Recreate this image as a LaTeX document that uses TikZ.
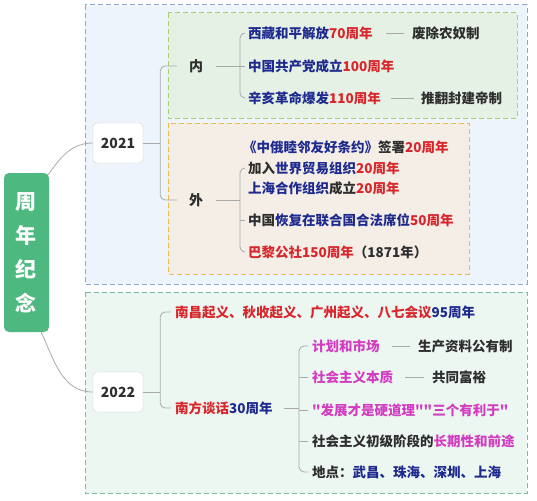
\documentclass[tikz,border=0pt]{standalone}
\usepackage{fontspec}
\setmainfont{Noto Sans CJK SC}
\newfontfamily\plainquote{Noto Sans CJK SC}[Ligatures=TeXOff]
\usetikzlibrary{calc}
\definecolor{navy}{HTML}{1E2A8E}
\definecolor{hred}{HTML}{D8262C}
\definecolor{mag}{HTML}{D23CC0}
\definecolor{dgray}{HTML}{2E2E2E}
\definecolor{connc}{HTML}{A9A9A9}
\definecolor{bluebd}{HTML}{8DA8C8}
\definecolor{bluebg}{HTML}{EDF4FC}
\definecolor{greenbd}{HTML}{A8CF72}
\definecolor{greenbg}{HTML}{E5F1E4}
\definecolor{orangebd}{HTML}{F0B84E}
\definecolor{orangebg}{HTML}{F4EEE7}
\definecolor{tealbd}{HTML}{80B8A6}
\definecolor{tealbg}{HTML}{EDF7F2}
\definecolor{rootc}{HTML}{4DB880}
\definecolor{yearbd}{HTML}{D0D0D0}
\begin{document}
\begin{tikzpicture}[x=1pt,y=-1pt,
  grp/.style={line width=1pt, dash pattern=on 5pt off 3pt},
  conn/.style={draw=connc, line width=0.8pt},
  brk/.style={conn, rounded corners=5pt},
  item/.style={anchor=west, inner sep=0pt, font=\fontsize{13.5}{16}\selectfont\bfseries, text=dgray},
  yearbox/.style={draw=yearbd, fill=white, rounded corners=4pt, minimum width=50pt, minimum height=40pt, inner sep=0pt, font=\fontsize{14}{16}\selectfont\bfseries, text=dgray},
  sidebox/.style={inner sep=0pt, font=\fontsize{14}{16}\selectfont\bfseries, text=dgray}
]
\useasboundingbox (0,0) rectangle (537,500);
% group boxes
\draw[grp, draw=bluebd, fill=bluebg] (85,5) rectangle (527,284);
\draw[grp, draw=greenbd, fill=greenbg] (168,13) rectangle (517,118);
\draw[grp, draw=orangebd, fill=orangebg] (168,123) rectangle (469,274);
\draw[grp, draw=tealbd, fill=tealbg] (85,292) rectangle (527,493);

% root
\node[fill=rootc, rounded corners=5pt, minimum width=45pt, minimum height=159pt, inner sep=0pt,
  text=white, font=\fontsize{21}{34}\selectfont\bfseries, align=center] (root) at (26.5,252.5) {周\\年\\纪\\念};

% years
\node[yearbox] (y2021) at (118,143) {2021};
\node[yearbox] (y2022) at (118,392) {2022};

% 2021 branches
\node[sidebox] (nei) at (196,66) {内};
\node[sidebox] (wai) at (196,200) {外};

\node[item] (a1) at (248,33) {\textcolor{navy}{西藏和平解放}\textcolor{hred}{70周年}};
\node[item] (a2) at (248,66) {\textcolor{navy}{中国共产党成立}\textcolor{hred}{100周年}};
\node[item] (a3) at (248,98) {\textcolor{navy}{辛亥革命爆发}\textcolor{hred}{110周年}};
\node[item] (a1n) at (412,33) {废除农奴制};
\node[item] (a3n) at (421,98) {推翻封建帝制};

\node[item] (b0) at (243,147) {\textcolor{navy}{《中俄睦邻友好条约》}签署\textcolor{hred}{20周年}};
\node[item] (b1) at (248,168) {加入\textcolor{navy}{世界贸易组织}\textcolor{hred}{20周年}};
\node[item] (b2) at (248,188) {\textcolor{navy}{上海合作组织}成立\textcolor{hred}{20周年}};
\node[item] (b3) at (248,220) {中国\textcolor{navy}{恢复在联合国合法席位}\textcolor{hred}{50周年}};
\node[item] (b4) at (248,252) {\textcolor{hred}{巴黎公社150周年}（1871年）};

% 2022 branches
\node[item] (c1) at (175,312) {\textcolor{hred}{南昌起义、秋收起义、广州起义、八七会议}\textcolor{navy}{95周年}};
\node[item] (c2) at (175,408) {\textcolor{hred}{南方谈话}\textcolor{navy}{30周年}};

\node[item] (d1) at (312,346) {\textcolor{mag}{计划和市场}};
\node[item] (d1n) at (418,346) {生产资料公有制};
\node[item] (d2) at (312,377) {\textcolor{mag}{社会主义本质}};
\node[item] (d2n) at (432,377) {共同富裕};
\node[item] (d3) at (312,410) {\plainquote\bfseries\textcolor{mag}{"发展才是硬道理""三个有利于"}};
\node[item] (d4) at (312,441) {社会主义初级阶段的\textcolor{mag}{长期性和前途}};
\node[item] (d5) at (312,472) {地点：\textcolor{navy}{武昌、珠海、深圳、上海}};

% root curves
\draw[conn] ([shift={(-1,2)}]root.north east) to[out=55,in=180] (y2021.west);
\draw[conn] ([shift={(-8,0)}]root.south east) to[out=-65,in=180] (y2022.west);

% 2021 -> 内/外
\coordinate (k1) at ([xshift=17pt]y2021.east);
\draw[conn] (y2021.east) -- (k1);
\draw[brk] ([xshift=-12pt]nei.west) -- (k1 |- nei.west) -- (k1 |- wai.west) -- ([xshift=-12pt]wai.west);

% 内 bracket
\coordinate (kn) at ([xshift=-8pt]a1.west);
\draw[conn] ([xshift=13pt]nei.east) -- ([xshift=-3pt]a2.west);
\draw[brk] ([xshift=-3pt]a1.west) -- (kn) -- (kn |- a3.west) -- ([xshift=-3pt]a3.west);
\draw[conn] ([xshift=13pt]a1.east) -- ([xshift=-8pt]a1n.west);
\draw[conn] ([xshift=10pt]a3.east) -- ([xshift=-7pt]a3n.west);

% 外 bracket
\coordinate (kw) at ([xshift=-8pt]b1.west);
\draw[conn] ([xshift=13pt]wai.east) -- (kw |- wai.east);
\draw[brk] ([xshift=-3pt]b1.west) -- (kw) -- (kw |- b4.west) -- ([xshift=-3pt]b4.west);
\draw[conn] (kw |- b3.west) -- ([xshift=-3pt]b3.west);

% 2022 bracket
\coordinate (k2) at ([xshift=17pt]y2022.east);
\draw[conn] (y2022.east) -- (k2);
\draw[brk] ([xshift=-4pt]c1.west) -- (k2 |- c1.west) -- (k2 |- c2.west) -- ([xshift=-4pt]c2.west);

% 南方谈话 bracket
\coordinate (k3) at ([xshift=-13pt]d1.west);
\draw[conn] ([xshift=11pt]c2.east) -- (k3 |- c2.east);
\draw[brk] ([xshift=-4pt]d1.west) -- (k3) -- (k3 |- d5.west) -- ([xshift=-4pt]d5.west);
\draw[conn] (k3 |- d2.west) -- ([xshift=-4pt]d2.west);
\draw[conn] (k3 |- d3.west) -- ([xshift=-4pt]d3.west);
\draw[conn] (k3 |- d4.west) -- ([xshift=-4pt]d4.west);
\draw[conn] ([xshift=12pt]d1.east) -- ([xshift=-8pt]d1n.west);
\draw[conn] ([xshift=12pt]d2.east) -- ([xshift=-8pt]d2n.west);
\end{tikzpicture}
\end{document}
